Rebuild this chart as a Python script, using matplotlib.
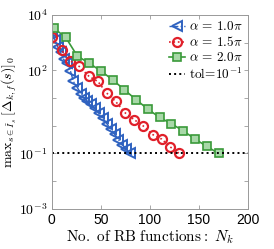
import numpy as np
import matplotlib
matplotlib.use("Agg")
import matplotlib.pyplot as plt

plt.rcParams['mathtext.fontset'] = 'cm'
plt.rcParams['font.family'] = 'Liberation Sans'

# blue: alpha = 1.0 pi
n_a1 = [0, 3, 6, 9, 12, 16, 19, 22, 26, 30, 33, 36, 40, 44, 48, 52, 56, 60, 64, 68, 72, 76, 80]
log_a1 = [3.40, 3.10, 2.85, 2.65, 2.40, 2.25, 1.98, 1.60, 1.38, 1.15, 1.02, 0.90, 0.78, 0.63, 0.45,
          0.28, 0.08, -0.12, -0.30, -0.50, -0.68, -0.85, -1.0]
# red: alpha = 1.5 pi
n_a15 = [0, 10, 19, 28, 38, 47, 56, 65, 75, 84, 93, 103, 112, 121, 130]
log_a15 = [3.20, 2.72, 2.34, 2.14, 1.78, 1.60, 1.18, 0.88, 0.46, 0.22, 0.0, -0.32, -0.48, -0.77, -1.0]
# green: alpha = 2.0 pi
n_a2 = [2, 14, 26, 38, 50, 62, 74, 86, 98, 110, 122, 134, 146, 158, 170]
log_a2 = [3.52, 3.20, 2.52, 2.26, 1.98, 1.66, 1.30, 0.94, 0.60, 0.30, 0.07, -0.18, -0.48, -0.74, -1.0]

tol = 1e-1
yticks = [1e-3, 1e-2, 1e-1, 1e0, 1e1, 1e2, 1e3, 1e4]
ylabels = [r'$\mathsf{10^{-3}}$', '', r'$\mathsf{10^{-1}}$', '', '', r'$\mathsf{10^{2}}$', '',
           r'$\mathsf{10^{4}}$']

fig = plt.figure(figsize=(2.74, 2.49), dpi=100)
ax = fig.add_axes([0.189, 0.161, 0.716, 0.779])

blue = '#2f62c0'
red = '#e0202a'
green = '#3a9a3a'

ax.plot(n_a1, 10 ** np.array(log_a1), color=blue, ls='-.', lw=1.0, marker='<', ms=7,
        mfc='none', mec=blue, mew=1.4, label=r'$\alpha\,=\,1.0\pi$')
ax.plot(n_a15, 10 ** np.array(log_a15), color=red, ls=':', lw=1.2, marker='o', ms=6.5,
        mfc='none', mec=red, mew=1.6, label=r'$\alpha\,=\,1.5\pi$')
ax.plot(n_a2, 10 ** np.array(log_a2), color=green, ls='-', lw=1.2, marker='s', ms=6,
        mfc='#a8d8a8', mec=green, mew=1.2, label=r'$\alpha\,=\,2.0\pi$')
ax.axhline(tol, color='black', ls=':', lw=1.4, label=r'$\mathrm{tol}\!=\!10^{-1}$')

ax.set_yscale('log')
ax.set_xlim(0, 200)
ax.set_ylim(1e-3, 1e4)
ax.set_xticks([0, 50, 100, 150, 200])
ax.set_yticks(yticks)
ax.set_yticklabels(ylabels)
ax.yaxis.set_minor_locator(matplotlib.ticker.NullLocator())
ax.tick_params(direction='in', length=3, width=0.6, color='#999999', labelsize=10,
               top=True, right=True, pad=3)
for s in ax.spines.values():
    s.set_color('#999999')
    s.set_linewidth(0.7)

ax.set_xlabel(r'$\mathrm{No.\ of\ RB\ functions:}\ N_k$', fontsize=11, labelpad=1)
ax.set_ylabel(r'$\mathrm{max}_{s\in\tilde{I}_s}\,[\Delta_{k,f}(s)]_0$', fontsize=10)
ax.yaxis.set_label_coords(-0.165, 0.5)

ax.legend(loc='upper right', frameon=False, fontsize=9.5, handlelength=1.2,
          handletextpad=0.3, labelspacing=0.15, borderaxespad=0.2, borderpad=0.2)

fig.savefig('out.png', dpi=100)
